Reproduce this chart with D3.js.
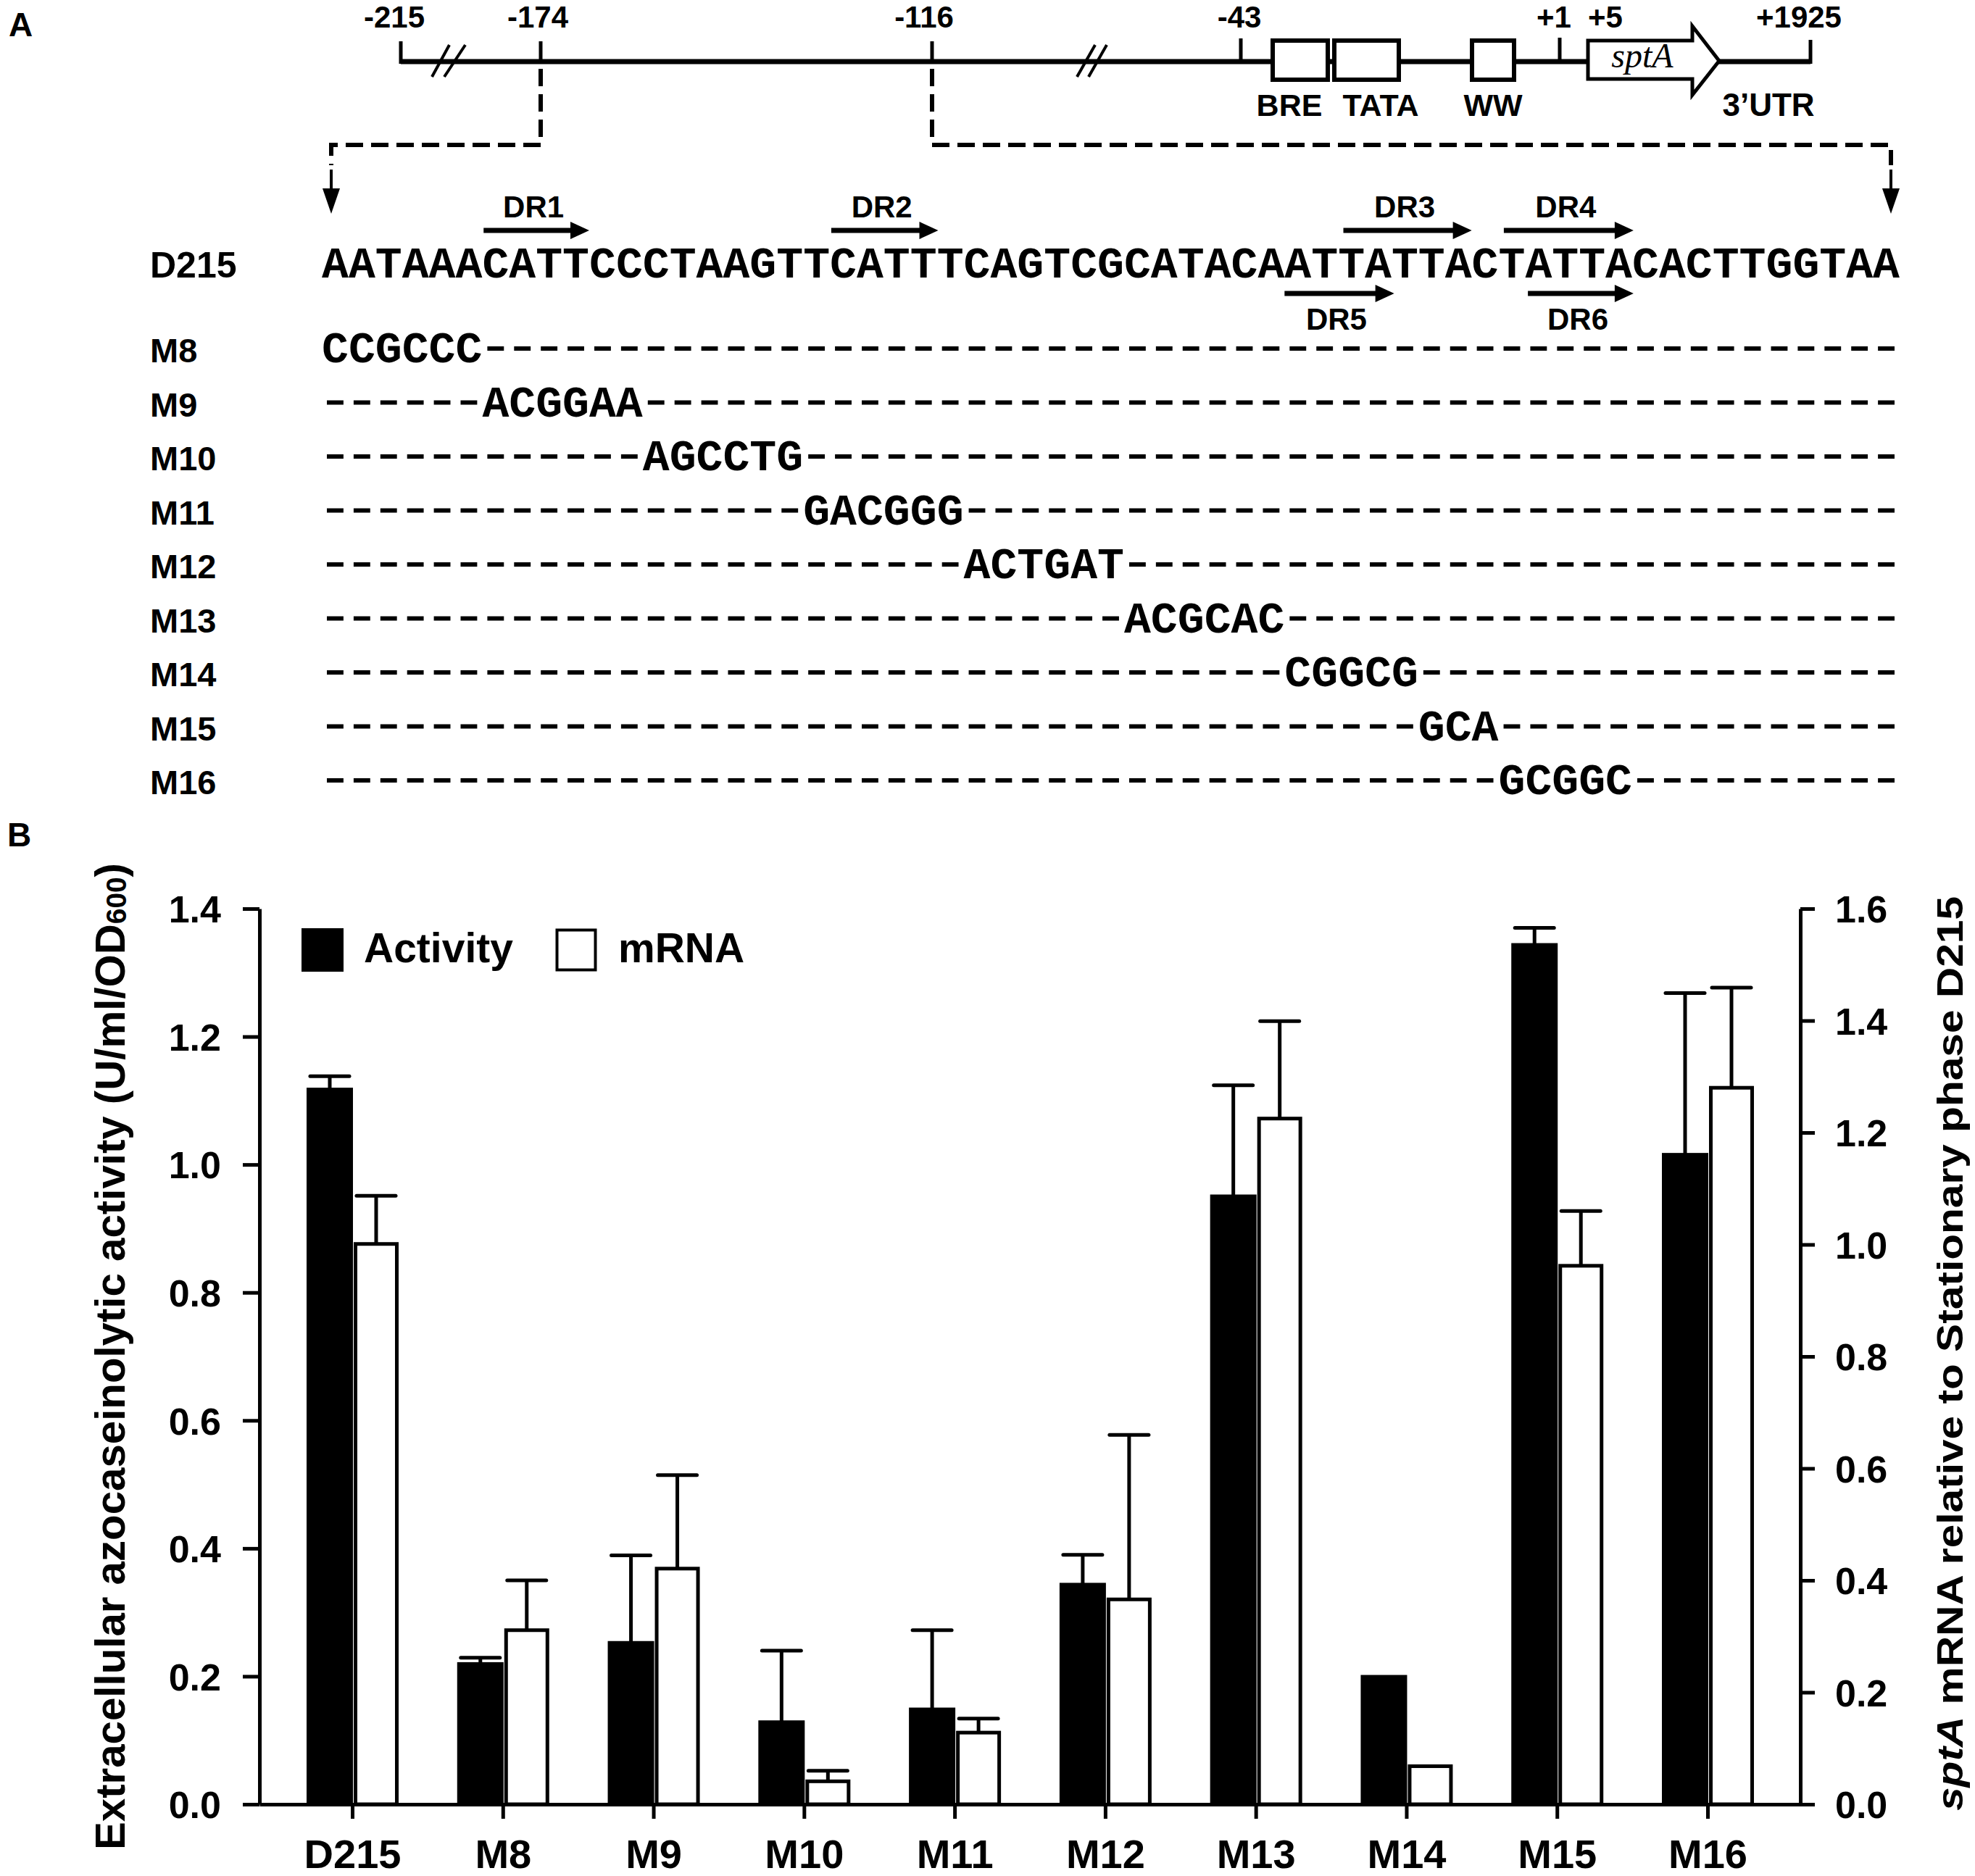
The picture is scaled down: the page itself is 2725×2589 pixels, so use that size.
<!DOCTYPE html>
<html><head><meta charset="utf-8">
<script src="https://cdn.jsdelivr.net/npm/d3@7/dist/d3.min.js"></script>
<style>
html,body{margin:0;padding:0;background:#fff;}
svg{display:block;}
</style></head>
<body>
<svg id="fig" width="2725" height="2589"></svg>
<script>
// ---------------- DATA ----------------
// Panel A: promoter map labels
const mapPositions = ["-215", "-174", "-116", "-43", "+1", "+5", "+1925"];
const mapElements = ["BRE", "TATA", "WW"];
const geneName = "sptA";
const utrLabel = "3\u2019UTR";
// Panel A: sequence and substitution mutants
const wildName = "D215";
const wildSeq = "AATAAACATTCCCTAAGTTCATTTCAGTCGCATACAATTATTACTATTACACTTGGTAA";
const mutantNames = ["M8", "M9", "M10", "M11", "M12", "M13", "M14", "M15", "M16"];
const mutantStart = [0, 6, 12, 18, 24, 30, 36, 41, 44];
const mutantSeqs  = ["CCGCCC", "ACGGAA", "AGCCTG", "GACGGG", "ACTGAT", "ACGCAC", "CGGCG", "GCA", "GCGGC"];
// direct repeats (character index start/end on the sequence)
const repeatNames = ["DR1", "DR2", "DR3", "DR4", "DR5", "DR6"];
const repeatStart = [6.05, 19.05, 38.2, 44.2, 36.0, 45.1];
const repeatEnd   = [10.0, 23.05, 43.0, 49.05, 40.1, 49.05];
const repeatSide  = ["above", "above", "above", "above", "below", "below"];

// Panel B: bar chart
const categories = ["D215", "M8", "M9", "M10", "M11", "M12", "M13", "M14", "M15", "M16"];
const activity    = [1.119, 0.221, 0.254, 0.130, 0.150, 0.345, 0.952, 0.201, 1.345, 1.017];
const activityErr = [0.019, 0.008, 0.135, 0.110, 0.122, 0.045, 0.172, 0.000, 0.025, 0.251];
const mrna        = [1.001, 0.311, 0.421, 0.041, 0.128, 0.366, 1.225, 0.068, 0.962, 1.280];
const mrnaErr     = [0.086, 0.089, 0.167, 0.019, 0.025, 0.294, 0.174, 0.000, 0.098, 0.179];
const leftTicks  = [0, 0.2, 0.4, 0.6, 0.8, 1.0, 1.2, 1.4];
const rightTicks = [0, 0.2, 0.4, 0.6, 0.8, 1.0, 1.2, 1.4, 1.6];
const legendLabels = ["Activity", "mRNA"];
const leftTitle = "Extracellular azocaseinolytic activity (U/ml/OD";
const leftTitleSub = "600";
const rightTitleItalic = "sptA";
const rightTitleRest = " mRNA relative to Stationary phase D215";

// ---------------- DRAWING ----------------
const SANS = "'Liberation Sans', Arial, Helvetica, sans-serif";
const MONO = "'Liberation Mono', 'Courier New', monospace";
const SERIF = "'Liberation Serif', 'Times New Roman', serif";
const svg = d3.select("#fig");
const LW = 5;

// panel letters
svg.append("text").attr("x", 12).attr("y", 50).text("A")
  .attr("font-family", SANS).attr("font-weight", 700).attr("font-size", 46);
svg.append("text").attr("x", 10).attr("y", 1168).text("B")
  .attr("font-family", SANS).attr("font-weight", 700).attr("font-size", 46);

// ---- Panel A: map ----
const A = svg.append("g");
const lineY = 85;
// schematic x positions for the map marks (diagram is not to scale)
const mapX = d3.scaleOrdinal().domain(mapPositions).range([553, 746, 1286, 1712, 2152, 2216, 2498]);
const mapLabelX = d3.scaleOrdinal().domain(mapPositions).range([544, 742, 1275, 1710, 2144, 2215, 2482]);
A.append("line").attr("x1", mapX("-215")).attr("x2", mapX("+1925")).attr("y1", lineY).attr("y2", lineY)
  .attr("stroke", "#000").attr("stroke-width", 7);
// end ticks
[["-215", 57], ["-174", 57], ["-116", 57], ["-43", 53], ["+1", 52], ["+1925", 55]].forEach(([k, y0]) => {
  A.append("line").attr("x1", mapX(k)).attr("x2", mapX(k)).attr("y1", y0).attr("y2", lineY + 3)
    .attr("stroke", "#000").attr("stroke-width", 5);
});
// break marks
[[596, 620], [613, 642], [1486, 1511], [1502, 1527]].forEach(([a, b]) => {
  A.append("line").attr("x1", a).attr("y1", 106).attr("x2", b).attr("y2", 62)
    .attr("stroke", "#000").attr("stroke-width", 4);
});
// boxes
const boxX = d3.scaleOrdinal().domain(mapElements).range([[1756, 1832], [1841, 1930], [2031, 2089]]);
const boxLabelX = d3.scaleOrdinal().domain(mapElements).range([1779, 1905, 2060]);
mapElements.forEach(e => {
  const [x0, x1] = boxX(e);
  A.append("rect").attr("x", x0).attr("y", 56).attr("width", x1 - x0).attr("height", 54)
    .attr("fill", "#fff").attr("stroke", "#000").attr("stroke-width", 6);
  A.append("text").attr("x", boxLabelX(e)).attr("y", 160).text(e)
    .attr("text-anchor", "middle").attr("font-family", SANS).attr("font-weight", 700).attr("font-size", 43);
});
// gene arrow
A.append("path").attr("d", "M2191,56 L2335,56 L2335,36 L2372,84 L2335,131 L2335,109 L2191,109 Z")
  .attr("fill", "#fff").attr("stroke", "#000").attr("stroke-width", 5).attr("stroke-linejoin", "miter");
A.append("text").attr("x", 2266).attr("y", 93).text(geneName).attr("text-anchor", "middle")
  .attr("font-family", SERIF).attr("font-style", "italic").attr("font-size", 48);
A.append("text").attr("x", 2440).attr("y", 160).text(utrLabel).attr("text-anchor", "middle")
  .attr("font-family", SANS).attr("font-weight", 700).attr("font-size", 44);
// position labels
mapPositions.forEach(p => {
  A.append("text").attr("x", mapLabelX(p)).attr("y", 38).text(p).attr("text-anchor", "middle")
    .attr("font-family", SANS).attr("font-weight", 700).attr("font-size", 42);
});
// dashed connectors
const dash = "24,11";
A.append("path").attr("d", `M${mapX("-174")},${lineY + 10} V200 H457 V228`)
  .attr("fill", "none").attr("stroke", "#000").attr("stroke-width", 6).attr("stroke-dasharray", dash);
A.append("path").attr("d", `M${mapX("-116")},${lineY + 10} V200 H2609 V228`)
  .attr("fill", "none").attr("stroke", "#000").attr("stroke-width", 6).attr("stroke-dasharray", dash);
[457, 2609].forEach(x => {
  A.append("line").attr("x1", x).attr("x2", x).attr("y1", 234).attr("y2", 264)
    .attr("stroke", "#000").attr("stroke-width", 4);
  A.append("path").attr("d", `M${x - 12},260 L${x + 12},260 L${x},295 Z`).attr("fill", "#000");
});

// ---- Panel A: sequences ----
const nChar = wildSeq.length;
const seqX = d3.scaleLinear().domain([0, nChar]).range([444, 2621]);
const charW = (seqX(nChar) - seqX(0)) / nChar;
const seqFont = charW / 0.6;
const rowY = d3.scaleLinear().domain([0, 8]).range([500, 1096]);
const wildY = 383;

A.append("text").attr("x", 207).attr("y", wildY).text(wildName)
  .attr("font-family", SANS).attr("font-weight", 700).attr("font-size", 50);
A.append("text").attr("x", seqX(0)).attr("y", wildY).text(wildSeq)
  .attr("font-family", MONO).attr("font-weight", 700).attr("font-size", seqFont)
  .attr("textLength", seqX(nChar) - seqX(0)).attr("lengthAdjust", "spacing");

mutantNames.forEach((m, i) => {
  const s = mutantStart[i], q = mutantSeqs[i];
  const y = rowY(i);
  A.append("text").attr("x", 207).attr("y", y).text(m)
    .attr("font-family", SANS).attr("font-weight", 700).attr("font-size", 47);
  // substituted bases
  A.append("text").attr("x", seqX(s)).attr("y", y).text(q)
    .attr("font-family", MONO).attr("font-weight", 700).attr("font-size", seqFont)
    .attr("textLength", seqX(s + q.length) - seqX(s)).attr("lengthAdjust", "spacing");
  // unchanged bases shown as dashes (one per base)
  const idx = d3.range(nChar).filter(k => k < s || k >= s + q.length);
  A.append("g").selectAll("line").data(idx).join("line")
    .attr("x1", k => seqX(k) + charW * 0.19).attr("x2", k => seqX(k) + charW * 0.81)
    .attr("y1", y - 19).attr("y2", y - 19)
    .attr("stroke", "#000").attr("stroke-width", 6);
});

// direct repeat arrows
repeatNames.forEach((r, i) => {
  const x0 = seqX(repeatStart[i]), x1 = seqX(repeatEnd[i]);
  const above = repeatSide[i] === "above";
  const y = above ? 318 : 405;
  A.append("line").attr("x1", x0).attr("x2", x1 - 20).attr("y1", y).attr("y2", y)
    .attr("stroke", "#000").attr("stroke-width", 7);
  A.append("path").attr("d", `M${x1 - 26},${y - 12} L${x1},${y} L${x1 - 26},${y + 12} Z`).attr("fill", "#000");
  A.append("text").attr("x", (x0 + x1) / 2 - 4).attr("y", above ? 300 : 455).text(r)
    .attr("text-anchor", "middle").attr("font-family", SANS).attr("font-weight", 700).attr("font-size", 42);
});

// ---- Panel B: bar chart ----
const B = svg.append("g");
const plotL = 358, plotR = 2484, plotT = 1254, plotB = 2490;
const yL = d3.scaleLinear().domain([0, 1.4]).range([plotB, plotT]);
const yR = d3.scaleLinear().domain([0, 1.6]).range([plotB, plotT]);
const x = d3.scalePoint().domain(categories).range([plotL, plotR]).padding(0.616);
const barW = 62;

function styleAxis(g) {
  g.selectAll("path.domain").attr("stroke", "#000").attr("stroke-width", LW);
  g.selectAll(".tick line").attr("stroke", "#000").attr("stroke-width", LW);
  g.selectAll(".tick text").attr("font-family", SANS).attr("font-weight", 700).attr("fill", "#000");
}
const gL = B.append("g").attr("transform", `translate(${plotL},0)`)
  .call(d3.axisLeft(yL).tickValues(leftTicks).tickFormat(d3.format(".1f")).tickSize(23).tickSizeOuter(0).tickPadding(30));
styleAxis(gL);
gL.selectAll(".tick text").attr("font-size", 52).attr("dy", "0.36em");
const gR = B.append("g").attr("transform", `translate(${plotR},0)`)
  .call(d3.axisRight(yR).tickValues(rightTicks).tickFormat(d3.format(".1f")).tickSize(20).tickSizeOuter(0).tickPadding(28));
styleAxis(gR);
gR.selectAll(".tick text").attr("font-size", 52).attr("dy", "0.36em");

// bars
const groups = B.append("g").selectAll("g").data(categories).join("g");
groups.append("rect").attr("x", d => x(d) - barW).attr("y", (d, i) => yL(activity[i]))
  .attr("width", barW).attr("height", (d, i) => plotB - yL(activity[i]))
  .attr("fill", "#000").attr("stroke", "#000").attr("stroke-width", 2);
groups.append("rect").attr("x", d => x(d) + 2.5 + 2).attr("y", (d, i) => yR(mrna[i]))
  .attr("width", barW - 5).attr("height", (d, i) => plotB - yR(mrna[i]))
  .attr("fill", "#fff").attr("stroke", "#000").attr("stroke-width", LW);
// error bars
groups.each(function (d, i) {
  const g = d3.select(this);
  const cA = x(d) - barW / 2, cM = x(d) + 2 + barW / 2;
  if (activityErr[i] > 0) {
    g.append("line").attr("x1", cA).attr("x2", cA).attr("y1", yL(activity[i])).attr("y2", yL(activity[i] + activityErr[i]))
      .attr("stroke", "#000").attr("stroke-width", LW);
    g.append("line").attr("x1", cA - 27).attr("x2", cA + 27).attr("y1", yL(activity[i] + activityErr[i])).attr("y2", yL(activity[i] + activityErr[i]))
      .attr("stroke", "#000").attr("stroke-width", LW).attr("stroke-linecap", "round");
  }
  if (mrnaErr[i] > 0) {
    g.append("line").attr("x1", cM).attr("x2", cM).attr("y1", yR(mrna[i])).attr("y2", yR(mrna[i] + mrnaErr[i]))
      .attr("stroke", "#000").attr("stroke-width", LW);
    g.append("line").attr("x1", cM - 27).attr("x2", cM + 27).attr("y1", yR(mrna[i] + mrnaErr[i])).attr("y2", yR(mrna[i] + mrnaErr[i]))
      .attr("stroke", "#000").attr("stroke-width", LW).attr("stroke-linecap", "round");
  }
});

// bottom axis (drawn after bars)
const gB = B.append("g").attr("transform", `translate(0,${plotB})`)
  .call(d3.axisBottom(x).tickSize(20).tickSizeOuter(0).tickPadding(28));
styleAxis(gB);
gB.selectAll(".tick text").attr("font-size", 56).attr("dy", "0.72em");

// legend
const lg = B.append("g");
lg.append("rect").attr("x", 416).attr("y", 1281).attr("width", 58).attr("height", 60).attr("fill", "#000");
lg.append("text").attr("x", 502).attr("y", 1328).text(legendLabels[0])
  .attr("font-family", SANS).attr("font-weight", 700).attr("font-size", 57);
lg.append("rect").attr("x", 768.5).attr("y", 1283.5).attr("width", 53).attr("height", 55)
  .attr("fill", "#fff").attr("stroke", "#000").attr("stroke-width", 4);
lg.append("text").attr("x", 853).attr("y", 1328).text(legendLabels[1])
  .attr("font-family", SANS).attr("font-weight", 700).attr("font-size", 57);

// axis titles
const tL = B.append("text").attr("transform", `translate(172,${(1191 + 2553) / 2}) rotate(-90)`)
  .attr("text-anchor", "middle").attr("font-family", SANS).attr("font-weight", 700).attr("font-size", 57)
  .attr("textLength", 1362).attr("lengthAdjust", "spacingAndGlyphs");
tL.append("tspan").text(leftTitle);
tL.append("tspan").text(leftTitleSub).attr("font-size", 38).attr("dy", 2);
tL.append("tspan").text(")").attr("dy", -2);

const tR = B.append("text").attr("transform", `translate(2708,${(1237 + 2499) / 2}) rotate(-90)`)
  .attr("text-anchor", "middle").attr("font-family", SANS).attr("font-weight", 700).attr("font-size", 50)
  .attr("textLength", 1262).attr("lengthAdjust", "spacingAndGlyphs");
tR.append("tspan").text(rightTitleItalic).attr("font-style", "italic");
tR.append("tspan").text(rightTitleRest);
</script>
</body></html>
